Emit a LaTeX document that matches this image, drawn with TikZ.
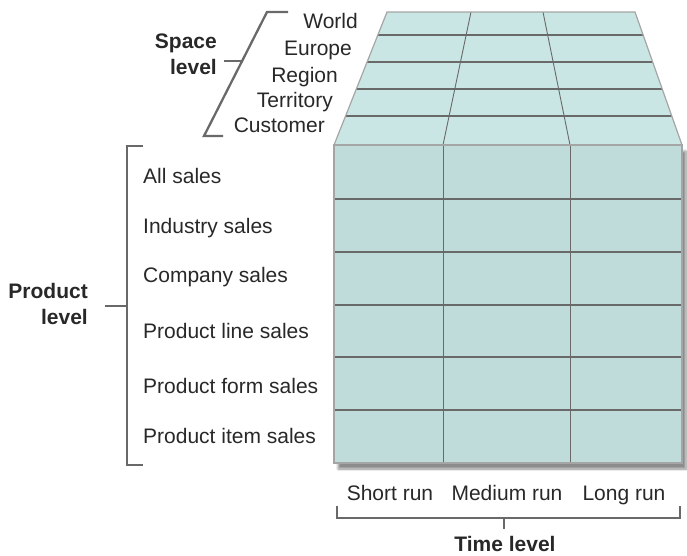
\documentclass[tikz,border=0pt]{standalone}
\usepackage{fontspec}
\setmainfont{Liberation Sans}
\usepackage{tikz}
\usetikzlibrary{positioning, calc, shadows.blur}
\definecolor{facefront}{RGB}{192,220,218}
\definecolor{facetop}{RGB}{201,230,228}
\definecolor{gridgray}{RGB}{105,105,105}
\definecolor{edgegray}{RGB}{165,165,165}
\definecolor{inkgray}{RGB}{40,40,40}

\begin{document}
\begin{tikzpicture}[x=1pt, y=-1pt,
    every node/.style={font=\fontsize{21}{25}\selectfont, text=inkgray, inner sep=0pt},
    lvl/.style={font=\fontsize{21}{26}\selectfont\bfseries, align=right},
    brace/.style={draw=gridgray, line width=2.3pt},
    rowline/.style={draw=gridgray, line width=1.7pt},
    colline/.style={draw=gridgray, line width=0.9pt}]
    \useasboundingbox (0,0) rectangle (687,555);

    % top face (space level)
    \fill[facetop] (387,12) -- (635,12) -- (682,145) -- (334,145) -- cycle;
    \foreach \t in {0.173, 0.376, 0.579, 0.782}
        \draw[rowline] ($(387,12)!\t!(334,145)$) -- ($(635,12)!\t!(682,145)$);
    \draw[colline] (471,12) -- (443,145);
    \draw[colline] (543,12) -- (570,145);
    \draw[edgegray, line width=1.2pt] (334,145) -- (387,12) -- (635,12) -- (682,145);

    % front face (product x time)
    \fill[facefront, blur shadow={shadow xshift=4pt, shadow yshift=-6pt, shadow blur steps=8, shadow opacity=45}]
        (334,145) rectangle (682,463);
    \foreach \y in {199, 252, 305, 357, 410}
        \draw[rowline] (334,\y) -- (682,\y);
    \draw[colline] (443,145) -- (443,463);
    \draw[colline] (570,145) -- (570,463);
    \draw[edgegray, line width=2pt] (334,145) rectangle (682,463);

    % space labels
    \node[anchor=base east] (world) at (358,28) {World};
    \node[anchor=base east] (europe) at (352,55) {Europe};
    \node[anchor=base east] (region) at (338,82) {Region};
    \node[anchor=base east] (territory) at (333,107) {Territory};
    \node[anchor=base east] (customer) at (325,132) {Customer};
    \node[lvl, anchor=east] (spacelvl) at (217,54) {Space\\level};

    % product labels
    \node[anchor=base west] (allsales) at (143,183) {All sales};
    \node[anchor=base west] (industry) at (143,233) {Industry sales};
    \node[anchor=base west] (company) at (143,282) {Company sales};
    \node[anchor=base west] (prodline) at (143,338) {Product line sales};
    \node[anchor=base west] (prodform) at (143,393) {Product form sales};
    \node[anchor=base west] (proditem) at (143,443) {Product item sales};
    \node[lvl, anchor=east] (productlvl) at (88,304) {Product\\level};

    % time labels
    \node[anchor=base] (shortrun) at (390,500) {Short run};
    \node[anchor=base] (mediumrun) at (507,500) {Medium run};
    \node[anchor=base] (longrun) at (624,500) {Long run};
    \node[lvl, anchor=base] (timelvl) at (505,551) {Time level};

    % brackets
    \coordinate (sptick) at (242,61);
    \draw[brace] (288,12) -- (267,12) -- (204,136) -- (223,136);
    \draw[brace] (sptick) -- ++(-18,0);
    \coordinate (prtick) at (127,306);
    \draw[brace] (143,146) -- (127,146) -- (127,465) -- (143,465);
    \draw[brace] (prtick) -- ++(-22,0);
    \coordinate (tmtick) at (504,518);
    \draw[brace] (337,506) -- (337,518) -- (680,518) -- (680,506);
    \draw[brace] (tmtick) -- ++(0,11);
\end{tikzpicture}
\end{document}
